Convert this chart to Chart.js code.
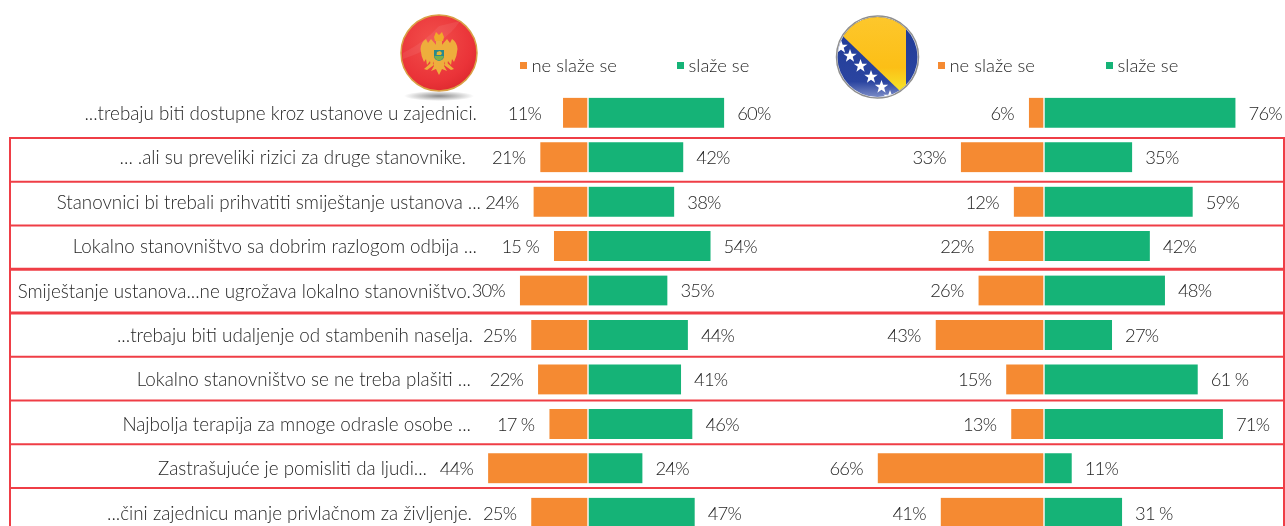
<!DOCTYPE html>
<html lang="bs">
<head>
    <meta charset="UTF-8">
    <title>Stavovi o ustanovama</title>
    <script src="https://cdn.jsdelivr.net/npm/chart.js"></script>
    <style>
        html, body { margin: 0; padding: 0; background: #fff; width: 1285px; height: 526px; overflow: hidden; }
        #wrap { position: relative; width: 1285px; height: 526px; overflow: hidden; }
        canvas { position: absolute; left: 0; top: 0; }
        svg { position: absolute; left: 0; top: 0; pointer-events: none; }
    </style>
</head>
<body>
<div id="wrap">
    <canvas id="chart" width="1285" height="535"></canvas>

    <!-- Flags -->
    <svg width="1285" height="110" viewBox="0 0 1285 110">
        <defs>
            <radialGradient id="redBall" cx="42%" cy="35%" r="75%">
                <stop offset="0" stop-color="#f2504c"/>
                <stop offset="0.7" stop-color="#ea3338"/>
                <stop offset="1" stop-color="#d9262c"/>
            </radialGradient>
            <linearGradient id="blueBall" x1="0" y1="0" x2="0" y2="1">
                <stop offset="0" stop-color="#1f3a94"/>
                <stop offset="0.8" stop-color="#2a44a0"/>
                <stop offset="1" stop-color="#7f8fc8"/>
            </linearGradient>
            <linearGradient id="yellowBall" x1="0" y1="0" x2="0" y2="1">
                <stop offset="0" stop-color="#fdc82f"/>
                <stop offset="0.7" stop-color="#fcbf16"/>
                <stop offset="1" stop-color="#f5e62a"/>
            </linearGradient>
            <radialGradient id="shadow">
                <stop offset="0" stop-color="#8a8a8a"/>
                <stop offset="1" stop-color="#ffffff"/>
            </radialGradient>
            <clipPath id="bihClip"><circle cx="877.5" cy="57" r="40"/></clipPath>
            <polygon id="star" points="0,-7 1.7,-2.2 6.7,-2.2 2.7,0.8 4.1,5.7 0,2.8 -4.1,5.7 -2.7,0.8 -6.7,-2.2 -1.7,-2.2" fill="#fff"/>
        </defs>

        <!-- Montenegro -->
        <ellipse cx="439" cy="96" rx="35" ry="5" fill="url(#shadow)"/>
        <circle cx="439" cy="53" r="38" fill="url(#redBall)" stroke="#d9a045" stroke-width="1.5"/>
        <path d="M403 53 Q425 42 439 26 L460 21 Q445 45 403 59 Z" fill="#fff" opacity="0.07"/>
        <g fill="#eeae3c">
            <path d="M434 37 L436 32 L439 35 L442 32 L444 37 L443 41 L435 41 Z" fill="#f0a92a"/>
            <path d="M437 46 L431 39 L428 43 L426 39 Q421 42 420.500 49 Q421 56 424 62 L426 59 L427 65 L430 61 L431 66 L436 58 Z"/>
            <path d="M441 46 L447 39 L450 43 L452 39 Q457 42 457.500 49 Q457 56 454 62 L452 59 L451 65 L448 61 L447 66 L442 58 Z"/>
            <path d="M433 58 L445 58 L444 66 L447 71 L442 69 L439 75 L436 69 L431 71 L434 66 Z"/>
            <path d="M432 62 L424 69 L427 70 L434 65 Z M446 62 L454 69 L451 70 L444 65 Z"/>
            <rect x="436" y="41" width="6" height="9"/>
        </g>
        <path d="M434 50 H444 V56 Q444 60 439 61 Q434 60 434 56 Z" fill="#2a8a8c"/>
        <path d="M434.500 56 H443.500 Q443 60 439 60.500 Q435 60 434.500 56 Z" fill="#7cb04a"/>
        <path d="M436.500 55 L437 52 L440 51 L442 53 L441 55 Z" fill="#e9b531"/>

        <!-- Bosnia and Herzegovina -->
        <circle cx="877.5" cy="57" r="41" fill="#fff" stroke="#8f8f8f" stroke-width="1.5"/>
        <g clip-path="url(#bihClip)">
            <rect x="836" y="16" width="84" height="82" fill="url(#blueBall)"/>
            <polygon points="825,19 906,10 906,92 900,91" fill="url(#yellowBall)"/>
            <use href="#star" x="841" y="47"/>
            <use href="#star" x="850" y="56"/>
            <use href="#star" x="860.5" y="66"/>
            <use href="#star" x="871" y="77"/>
            <use href="#star" x="881.5" y="87"/>
            <use href="#star" x="890" y="97"/>
        </g>
    </svg>
</div>

<script>
    // Statements, top to bottom
    const statements = [
        "...trebaju biti dostupne kroz ustanove u zajednici.",
        "... .ali su preveliki rizici za druge stanovnike.",
        "Stanovnici bi trebali prihvatiti smiještanje ustanova ...",
        "Lokalno stanovništvo sa dobrim razlogom odbija ...",
        "Smiještanje ustanova...ne ugrožava lokalno stanovništvo.",
        "...trebaju biti udaljenje od stambenih naselja.",
        "Lokalno stanovništvo se ne treba plašiti ...",
        "Najbolja terapija za mnoge odrasle osobe ...",
        "Zastrašujuće je pomisliti da ljudi...",
        "...čini zajednicu manje privlačnom za življenje."
    ];

    // Percentages
    const mneDisagree = [11, 21, 24, 15, 30, 25, 22, 17, 44, 25];
    const mneAgree = [60, 42, 38, 54, 35, 44, 41, 46, 24, 47];
    const bihDisagree = [6, 33, 12, 22, 26, 43, 15, 13, 66, 41];
    const bihAgree = [76, 35, 59, 42, 48, 27, 61, 71, 11, 31];

    // Printed labels (some have a space before the % sign)
    const mneDisagreeText = ["11%", "21%", "24%", "15 %", "30%", "25%", "22%", "17 %", "44%", "25%"];
    const mneAgreeText = ["60%", "42%", "38%", "54%", "35%", "44%", "41%", "46%", "24%", "47%"];
    const bihDisagreeText = ["6%", "33%", "12%", "22%", "26%", "43%", "15%", "13%", "66%", "41%"];
    const bihAgreeText = ["76%", "35%", "59%", "42%", "48%", "27%", "61 %", "71%", "11%", "31 %"];

    const disagreeName = "ne slaže se";
    const agreeName = "slaže se";

    // Layout
    const ORANGE = "#f58a32", GREEN = "#15b377", RED = "#ef3e46", TEXT = "#262626";
    const FONT = "300 18.4px Lato", STATEMENT_FONT = "300 18.8px Lato";
    const WIDTH = 1285;
    const mneZero = 588, mneScale = 2.27, bihZero = 1044, bihScale = 2.52;
    // right edge of each statement, they are not lined up in the original
    const statementRight = [477, 466, 481, 477, 471, 473, 471, 471, 427, 472];
    const boxLineWidth = [2, 2, 2, 3, 3, 2, 2, 2, 2];

    function barSet(label, values, color, axis, text, side) {
        return {
            label: label,
            data: values.map(v => side < 0 ? -v : v),
            backgroundColor: color,
            borderColor: "#fff",
            borderWidth: side < 0 ? { right: 1 } : { left: 1 },
            borderSkipped: false,
            xAxisID: axis,
            grouped: false,
            barThickness: 30,
            valueText: text,
            side: side
        };
    }

    // Red frames behind the bars
    const framePlugin = {
        id: "frames",
        beforeDatasetsDraw(chart) {
            const ctx = chart.ctx, y = chart.scales.y;
            const lineY = i => y.getPixelForValue(i + 0.5) + 3 - i * 0.7;
            ctx.save();
            ctx.strokeStyle = RED;
            boxLineWidth.forEach((w, i) => {
                ctx.lineWidth = w;
                ctx.beginPath();
                ctx.moveTo(9, lineY(i));
                ctx.lineTo(WIDTH, lineY(i));
                ctx.stroke();
            });
            ctx.lineWidth = 2;
            ctx.beginPath();
            ctx.moveTo(10, lineY(0));
            ctx.lineTo(10, 526);
            ctx.moveTo(1284, lineY(0));
            ctx.lineTo(1284, 526);
            ctx.stroke();
            ctx.restore();
        }
    };

    // Statement text, value labels and the two legends
    const textPlugin = {
        id: "texts",
        afterDatasetsDraw(chart) {
            const ctx = chart.ctx, y = chart.scales.y;
            ctx.save();
            ctx.font = STATEMENT_FONT;
            ctx.fillStyle = TEXT;
            ctx.textBaseline = "middle";

            ctx.textAlign = "right";
            statements.forEach((s, i) => ctx.fillText(s, statementRight[i], y.getPixelForValue(i) + 1));

            // percent figures are set tight in the original
            ctx.font = FONT;
            ctx.letterSpacing = "-0.8px";
            chart.data.datasets.forEach((ds, d) => {
                ctx.textAlign = ds.side < 0 ? "right" : "left";
                chart.getDatasetMeta(d).data.forEach((bar, i) => {
                    let gap = ds.side < 0 ? 15 : 13;
                    if (d === 0 && i === 0) gap = 22;
                    ctx.fillText(ds.valueText[i], bar.x + ds.side * gap, bar.y + 1);
                });
            });
            ctx.letterSpacing = "0px";

            const legendAt = [[520, 677], [938, 1106]];
            ctx.textAlign = "left";
            legendAt.forEach((xs, p) => {
                xs.forEach((x, k) => {
                    const ds = chart.data.datasets[p * 2 + k];
                    ctx.fillStyle = ds.backgroundColor;
                    ctx.fillRect(x, 62, 7, 7);
                    ctx.fillStyle = TEXT;
                    ctx.fillText(ds.label, x + 11.5, 66);
                });
            });
            ctx.restore();
        }
    };

    new Chart(document.getElementById("chart"), {
        type: "bar",
        data: {
            labels: statements,
            datasets: [
                barSet(disagreeName, mneDisagree, ORANGE, "xMne", mneDisagreeText, -1),
                barSet(agreeName, mneAgree, GREEN, "xMne", mneAgreeText, 1),
                barSet(disagreeName, bihDisagree, ORANGE, "xBih", bihDisagreeText, -1),
                barSet(agreeName, bihAgree, GREEN, "xBih", bihAgreeText, 1)
            ]
        },
        options: {
            indexAxis: "y",
            responsive: false,
            animation: false,
            layout: { padding: { top: 90.5, left: 0, right: 0, bottom: 0 } },
            plugins: { legend: { display: false }, tooltip: { enabled: false } },
            scales: {
                y: { display: false },
                xMne: { type: "linear", display: false, min: -mneZero / mneScale, max: (WIDTH - mneZero) / mneScale },
                xBih: { type: "linear", display: false, min: -bihZero / bihScale, max: (WIDTH - bihZero) / bihScale }
            }
        },
        plugins: [framePlugin, textPlugin]
    });
</script>
</body>
</html>
